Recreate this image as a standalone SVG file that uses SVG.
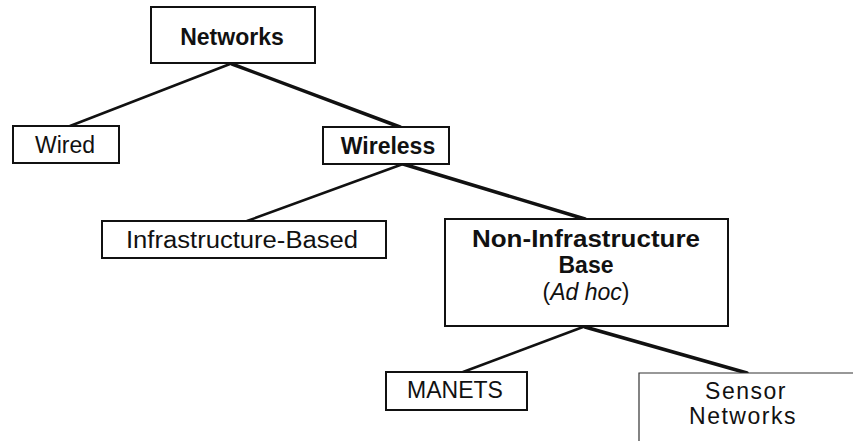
<svg xmlns="http://www.w3.org/2000/svg" width="853" height="441" viewBox="0 0 853 441">
  <style>
    .box { fill: #fff; stroke: #111; stroke-width: 2; }
    .thin { fill: #fff; stroke: #333; stroke-width: 1.2; }
    .lbl { font-family: "Liberation Sans", Arial, sans-serif; font-size: 23px; fill: #111; text-anchor: middle; dominant-baseline: central; }
    .b { font-weight: bold; }
    .edge { stroke: #111; stroke-linecap: round; fill: none; }
  </style>
  <rect width="853" height="441" fill="#fff"/>

  <g id="connectors">
    <line class="edge" x1="230" y1="64" x2="70" y2="126" stroke-width="2.5"/>
    <line class="edge" x1="232" y1="64" x2="400" y2="127" stroke-width="3.5"/>
    <line class="edge" x1="403" y1="164" x2="247" y2="221" stroke-width="2.5"/>
    <line class="edge" x1="403" y1="164" x2="585" y2="219" stroke-width="3.5"/>
    <line class="edge" x1="583" y1="327" x2="463" y2="372" stroke-width="2.5"/>
    <line class="edge" x1="585" y1="327" x2="747" y2="373" stroke-width="3.5"/>
  </g>

  <g id="networks">
    <rect class="box" x="151" y="7" width="164" height="56" stroke-width="2.5"/>
    <text class="lbl b" x="232" y="37">Networks</text>
  </g>

  <g id="wired">
    <rect class="box" x="13" y="126" width="106" height="37"/>
    <text class="lbl" x="65" y="145">Wired</text>
  </g>

  <g id="wireless">
    <rect class="box" x="323" y="127" width="126" height="37"/>
    <text class="lbl b" x="388" y="146">Wireless</text>
  </g>

  <g id="infrastructure-based">
    <rect class="box" x="102" y="221" width="284" height="37"/>
    <text class="lbl" x="242" y="240" textLength="232" lengthAdjust="spacingAndGlyphs">Infrastructure-Based</text>
  </g>

  <g id="non-infrastructure">
    <rect class="box" x="445" y="219" width="283" height="107"/>
    <text class="lbl b" x="586" y="239" textLength="228" lengthAdjust="spacingAndGlyphs">Non-Infrastructure</text>
    <text class="lbl b" x="586" y="265">Base</text>
    <text class="lbl" x="586" y="292">(<tspan font-style="italic">Ad hoc</tspan>)</text>
  </g>

  <g id="manets">
    <rect class="box" x="386" y="372" width="141" height="38"/>
    <text class="lbl" x="455" y="390">MANETS</text>
  </g>

  <g id="sensor-networks">
    <path class="thin" d="M639 441 V373 H853"/>
    <text class="lbl" x="746" y="391" letter-spacing="1.5">Sensor</text>
    <text class="lbl" x="743" y="416" letter-spacing="1.5">Networks</text>
  </g>
</svg>
